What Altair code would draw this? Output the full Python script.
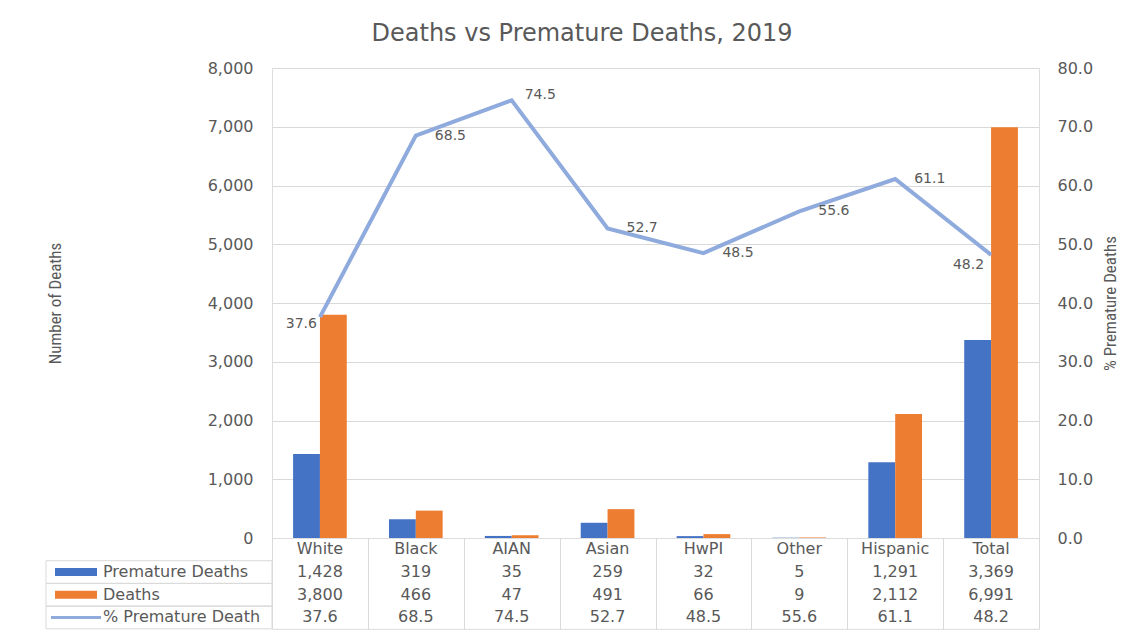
import altair as alt
import pandas as pd

# ---------------- data ----------------
CATEGORIES = ["White", "Black", "AIAN", "Asian", "HwPI", "Other", "Hispanic", "Total"]
PREMATURE = [1428, 319, 35, 259, 32, 5, 1291, 3369]
DEATHS = [3800, 466, 47, 491, 66, 9, 2112, 6991]
PCT = [37.6, 68.5, 74.5, 52.7, 48.5, 55.6, 61.1, 48.2]
SERIES = ["Premature Deaths", "Deaths"]
ROW_LABELS = ["Premature Deaths", "Deaths", "% Premature Death"]
LEFT_TICKS = [0, 1000, 2000, 3000, 4000, 5000, 6000, 7000, 8000]
RIGHT_TICKS = [0, 10, 20, 30, 40, 50, 60, 70, 80]

# ---------------- style ----------------
BLUE = "#4472C4"
ORANGE = "#ED7D31"
LINE = "#8FAADC"
TEXT = "#595959"
GRID = "#D9D9D9"
FONT = "DejaVu Sans"
NARROW = "Liberation Sans Narrow, Roboto Condensed, Liberation Sans"
W = 767
H = 470
ROW_H = 22.7
HEADER = "header"
ROW_ORDER = [HEADER] + ROW_LABELS

bars_df = pd.DataFrame({
    "cat": CATEGORIES * 2,
    "series": [SERIES[0]] * len(CATEGORIES) + [SERIES[1]] * len(CATEGORIES),
    "value": PREMATURE + DEATHS,
})
pct_df = pd.DataFrame({"cat": CATEGORIES, "pct": PCT})

cells = [{"cat": c, "row": HEADER, "text": c} for c in CATEGORIES]
for c, p, d, q in zip(CATEGORIES, PREMATURE, DEATHS, PCT):
    cells.append({"cat": c, "row": ROW_LABELS[0], "text": f"{p:,}"})
    cells.append({"cat": c, "row": ROW_LABELS[1], "text": f"{d:,}"})
    cells.append({"cat": c, "row": ROW_LABELS[2], "text": f"{q:.1f}"})
cells_df = pd.DataFrame(cells)
legend_df = pd.DataFrame({"row": ROW_LABELS})

# ---------------- top chart ----------------
x_top = alt.X("cat:N", sort=CATEGORIES,
              scale=alt.Scale(type="band", paddingInner=0.44, paddingOuter=0.22),
              axis=None)

bars = alt.Chart(bars_df).mark_bar().encode(
    x=x_top,
    xOffset=alt.XOffset("series:N", sort=SERIES,
                        scale=alt.Scale(paddingInner=0, paddingOuter=0)),
    y=alt.Y("value:Q", scale=alt.Scale(domain=[0, 8000], nice=False),
            axis=alt.Axis(values=LEFT_TICKS, format=",.0f", title="Number of Deaths",
                          grid=True, gridColor=GRID, domain=False, ticks=False,
                          labelPadding=19, labelFont=FONT, labelFontSize=16,
                          labelColor=TEXT, titleFont=NARROW, titleFontSize=17,
                          titleFontWeight="normal", titleColor=TEXT,
                          titlePadding=143)),
    color=alt.Color("series:N", sort=SERIES,
                    scale=alt.Scale(domain=SERIES, range=[BLUE, ORANGE]),
                    legend=None),
)

pct_scale = alt.Scale(domain=[0, 80], nice=False)
pct_axis = alt.Axis(orient="right", values=RIGHT_TICKS, format=".1f",
                    title="% Premature Deaths", grid=False, domain=False,
                    ticks=False, labelPadding=18, labelFont=FONT,
                    labelFontSize=16, labelColor=TEXT, titleFont=NARROW,
                    titleFontSize=17, titleFontWeight="normal",
                    titleColor=TEXT, titleAngle=270, titleBaseline="top",
                    titlePadding=10)

line = alt.Chart(pct_df).mark_line(color=LINE, strokeWidth=4).encode(
    x=x_top,
    y=alt.Y("pct:Q", scale=pct_scale, axis=pct_axis),
)


def labels(cats, **kw):
    return alt.Chart(pct_df).transform_filter(
        alt.FieldOneOfPredicate(field="cat", oneOf=cats)
    ).mark_text(font=FONT, fontSize=14, color=TEXT, baseline="middle", **kw).encode(
        x=x_top,
        y=alt.Y("pct:Q", scale=pct_scale, axis=pct_axis),
        text=alt.Text("pct:Q", format=".1f"),
    )


lab_right = labels(["Black", "Asian", "HwPI", "Other", "Hispanic"], align="left", dx=19)
lab_top = labels(["AIAN"], align="left", dx=13, dy=-5)
lab_white = labels(["White"], align="right", dx=-3, dy=7)
lab_total = labels(["Total"], align="right", dx=-7, dy=10)

pct_layer = alt.layer(line, lab_right, lab_top, lab_white, lab_total)

top = alt.layer(bars, pct_layer).resolve_scale(y="independent").properties(
    width=W, height=H)

# ---------------- data table ----------------
y_rows = alt.Y("row:N", sort=ROW_ORDER,
               scale=alt.Scale(type="band", paddingInner=0, paddingOuter=0,
                               domain=ROW_ORDER),
               axis=alt.Axis(tickBand="extent", grid=True, gridColor=GRID,
                             labels=False, ticks=False, domain=False, title=None))

table_text = alt.Chart(cells_df).mark_text(font=FONT, fontSize=16, color=TEXT,
                                           baseline="middle").encode(
    x=alt.X("cat:N", sort=CATEGORIES,
            scale=alt.Scale(type="band", paddingInner=0, paddingOuter=0),
            axis=alt.Axis(tickBand="extent", grid=True, gridColor=GRID,
                          labels=False, ticks=False, domain=False, title=None)),
    y=y_rows,
    text="text:N",
)

y_rows_plain = alt.Y("row:N", sort=ROW_ORDER,
                     scale=alt.Scale(type="band", paddingInner=0, paddingOuter=0,
                                     domain=ROW_ORDER),
                     axis=None)

legend_cells = alt.Chart(legend_df).mark_rect(
    fillOpacity=0, stroke=GRID, strokeWidth=1).encode(
    x=alt.value(-226), x2=alt.value(0), y=y_rows_plain)

swatch_color = alt.Color("row:N", scale=alt.Scale(domain=ROW_LABELS,
                                                  range=[BLUE, ORANGE, LINE]),
                         legend=None)

bar_swatches = alt.Chart(legend_df).transform_filter(
    alt.FieldOneOfPredicate(field="row", oneOf=SERIES)
).mark_rule(strokeWidth=8).encode(
    x=alt.value(-217), x2=alt.value(-175), y=y_rows_plain, color=swatch_color)

line_swatch = alt.Chart(legend_df).transform_filter(
    alt.FieldOneOfPredicate(field="row", oneOf=[ROW_LABELS[2]])
).mark_rule(strokeWidth=3).encode(
    x=alt.value(-221), x2=alt.value(-171), y=y_rows_plain, color=swatch_color)

row_text = alt.Chart(legend_df).mark_text(
    font=FONT, fontSize=16, color=TEXT, align="left", baseline="middle").encode(
    x=alt.value(-169), y=y_rows_plain, text="row:N")

bottom = alt.layer(table_text, legend_cells, bar_swatches, line_swatch,
                   row_text).properties(width=W, height=ROW_H * 4)

chart = alt.vconcat(top, bottom, spacing=0, bounds="flush").resolve_scale(
    x="independent", y="independent", color="independent"
).properties(
    title=alt.TitleParams("Deaths vs Premature Deaths, 2019", font=FONT,
                          fontSize=24, fontWeight="normal", color=TEXT,
                          anchor="middle", offset=14),
    padding={"left": 37, "top": 13, "right": 10, "bottom": 5},
).configure_view(stroke=None).configure(background="white")

chart.save("out.html", embed_options={"renderer": "svg", "actions": False})
